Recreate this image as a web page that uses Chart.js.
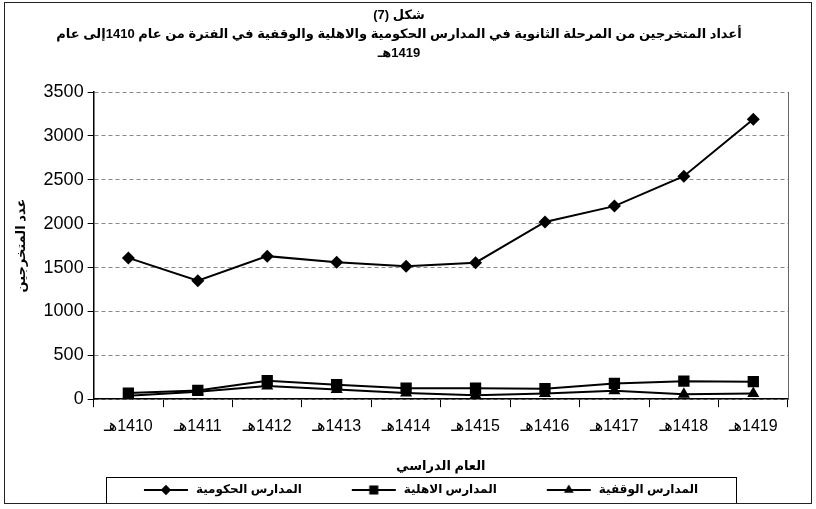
<!DOCTYPE html>
<html>
<head>
<meta charset="utf-8">
<script src="https://cdn.jsdelivr.net/npm/chart.js@4/dist/chart.umd.min.js"></script>
<style>
    body { margin: 0; background: #fff; }
    canvas { display: block; }
</style>
</head>
<body>
<canvas id="graduatesChart" width="816" height="509" dir="rtl"></canvas>
<script>
const years = ['1410هـ', '1411هـ', '1412هـ', '1413هـ', '1414هـ', '1415هـ', '1416هـ', '1417هـ', '1418هـ', '1419هـ'];
const governmentSchools = [1610, 1350, 1630, 1560, 1515, 1555, 2020, 2200, 2540, 3190];
const privateSchools = [70, 100, 210, 165, 125, 125, 120, 180, 205, 200];
const endowmentSchools = [40, 85, 150, 110, 70, 45, 65, 95, 55, 65];
const seriesNames = ['المدارس الحكومية', 'المدارس الاهلية', 'المدارس الوقفية'];
const titleLines = ['شكل (7)', 'أعداد المتخرجين من المرحلة الثانوية في المدارس الحكومية والاهلية والوقفية في الفترة من عام 1410إلى عام', '1419هـ'];
const yAxisTitle = 'عدد المتخرجين';
const xAxisTitle = 'العام الدراسي';

const fontFamily = '"Liberation Sans", "DejaVu Sans", sans-serif';
const iconWidth = 90;

function drawMarker(g, style, x, y, r) {
    g.beginPath();
    if (style === 'rectRot') {
        g.moveTo(x, y - r); g.lineTo(x + r, y); g.lineTo(x, y + r); g.lineTo(x - r, y);
    } else if (style === 'rect') {
        const s = r * Math.SQRT1_2;
        g.rect(x - s, y - s, 2 * s, 2 * s);
    } else {
        g.moveTo(x, y - r); g.lineTo(x + r * 0.87, y + r * 0.5); g.lineTo(x - r * 0.87, y + r * 0.5);
    }
    g.closePath();
    g.fill();
}

// line + marker picture for the legend, drawn at the right end of a wide transparent box
function makeLegendIcon(style, radius) {
    const c = document.createElement('canvas');
    c.width = iconWidth;
    c.height = 16;
    const g = c.getContext('2d');
    g.strokeStyle = '#000';
    g.fillStyle = '#000';
    g.lineWidth = 2;
    g.beginPath();
    g.moveTo(iconWidth - 46, 8);
    g.lineTo(iconWidth - 2, 8);
    g.stroke();
    drawMarker(g, style, iconWidth - 24, 8, radius * 0.8);
    return c;
}

const legendBoxPlugin = {
    id: 'legendBox',
    afterDraw(chart) {
        const boxes = chart.legend.legendHitBoxes;
        if (!boxes || !boxes.length) return;
        const ctx = chart.ctx;
        const first = boxes[0];
        const last = boxes[boxes.length - 1];
        const left = first.left + iconWidth - 46 - 38;
        const right = last.left + last.width + 38;
        ctx.save();
        ctx.strokeStyle = '#000';
        ctx.lineWidth = 1;
        ctx.strokeRect(Math.round(left) + 0.5, Math.round(first.top - 7) + 0.5, Math.round(right - left), Math.round(first.height + 14));
        ctx.restore();
    }
};

const framePlugin = {
    id: 'frame',
    afterDraw(chart) {
        const ctx = chart.ctx;
        ctx.save();
        ctx.strokeStyle = '#222';
        ctx.lineWidth = 1;
        ctx.strokeRect(4.5, 2.5, chart.width - 9, chart.height - 8);
        ctx.restore();
    }
};

function makeDataset(label, data, style, radius) {
    return {
        label: label,
        data: data,
        borderColor: '#000',
        backgroundColor: '#000',
        borderWidth: 2,
        pointStyle: style,
        pointRadius: radius,
        pointBackgroundColor: '#000',
        pointBorderColor: '#000',
        pointBorderWidth: 0,
        tension: 0,
        legendIcon: makeLegendIcon(style, radius)
    };
}

const ctx = document.getElementById('graduatesChart').getContext('2d');
const graduatesChart = new Chart(ctx, {
    type: 'line',
    data: {
        labels: years,
        datasets: [
            makeDataset(seriesNames[0], governmentSchools, 'rectRot', 6.5),
            makeDataset(seriesNames[1], privateSchools, 'rect', 8),
            makeDataset(seriesNames[2], endowmentSchools, 'triangle', 7)
        ]
    },
    options: {
        responsive: false,
        animation: false,
        layout: { padding: { left: 10, right: 28, top: 0, bottom: 3 } },
        plugins: {
            title: {
                display: true,
                text: titleLines,
                color: '#000',
                font: { family: fontFamily, size: 13, weight: 'bold', lineHeight: '19px' },
                padding: { top: 6, bottom: 29 }
            },
            legend: {
                position: 'bottom',
                padding: 3,
                labels: {
                    color: '#000',
                    font: { family: fontFamily, size: 12, weight: 'bold' },
                    usePointStyle: true,
                    pointStyleWidth: iconWidth,
                    padding: 6,
                    generateLabels(chart) {
                        return chart.data.datasets.map((ds, i) => ({
                            text: ds.label,
                            pointStyle: ds.legendIcon,
                            fillStyle: '#000',
                            strokeStyle: '#000',
                            lineWidth: 0,
                            fontColor: '#000',
                            datasetIndex: i
                        }));
                    }
                }
            },
            tooltip: { enabled: false }
        },
        scales: {
            x: {
                offset: true,
                grid: { display: true, drawOnChartArea: false, offset: true, tickLength: 8, tickColor: '#000' },
                border: { color: '#000', width: 1.5 },
                ticks: { color: '#000', padding: 10, maxRotation: 0, font: { family: fontFamily, size: 16 } },
                title: {
                    display: true,
                    text: xAxisTitle,
                    color: '#000',
                    font: { family: fontFamily, size: 13, weight: 'bold' },
                    padding: { top: 12, bottom: 4 }
                }
            },
            y: {
                min: 0,
                max: 3500,
                ticks: {
                    stepSize: 500,
                    color: '#000',
                    padding: 4,
                    font: { family: fontFamily, size: 18 },
                    callback: value => String(value)
                },
                grid: { color: '#888', tickColor: '#000', tickLength: 6, tickBorderDash: [] },
                border: { color: '#000', width: 1.5, dash: [4, 3] },
                title: {
                    display: true,
                    text: yAxisTitle,
                    color: '#000',
                    font: { family: fontFamily, size: 13, weight: 'bold' },
                    padding: { top: 4, bottom: 10 }
                }
            },
            yRight: {
                position: 'right',
                min: 0,
                max: 3500,
                ticks: { display: false },
                grid: { drawOnChartArea: false, drawTicks: false },
                border: { color: '#666', width: 1 }
            }
        }
    },
    plugins: [legendBoxPlugin, framePlugin]
});
</script>
</body>
</html>
